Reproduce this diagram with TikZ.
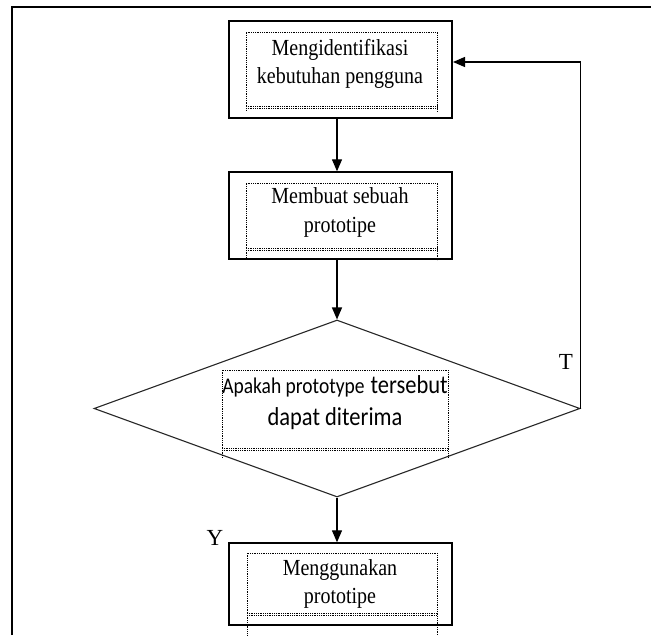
\documentclass[tikz,border=0pt]{standalone}
\usepackage{fontspec}
\usepackage{graphicx}
\setmainfont{Liberation Serif}
\newfontfamily\sansfnt{Carlito}
\usetikzlibrary{shapes.geometric,arrows.meta}

\tikzset{
  box/.style={draw, line width=1.4pt, minimum width=223pt, inner sep=0pt},
  decision/.style={shape=diamond, draw, line width=1.1pt, draw=black!85, inner sep=0pt,
    minimum width=486pt, minimum height=177pt},
  arr/.style={line width=1.3pt, -{Triangle[length=12pt,width=10pt]}},
  txt/.style={anchor=base, font=\fontsize{20}{24}\selectfont, inner sep=0pt},
  lbl/.style={font=\fontsize{23}{26}\selectfont, inner sep=0pt},
  dots/.style={line width=0.8pt, dash pattern=on 0.9pt off 0.9pt}
}

% taller glyphs, as the box texts are set
\newcommand{\tall}[1]{\scalebox{1}[1.15]{#1}}

% inner dotted frame: left, right, top, bottom y, extended side y
\newcommand{\dotframe}[5]{%
  \draw[dots] (#1,#4) -- (#1,#3) -- (#2,#3) -- (#2,#5);
  \draw[dots] (#1,#4) -- (#1,#5);
  \draw[dots] (#1,#4) -- (#2,#4);
  \draw[dots] (#1,#4+2) -- (#2,#4+2);
}

\begin{document}
\begin{tikzpicture}[x=1pt,y=-1pt]
\useasboundingbox (0,0) rectangle (651,635);

% open outer frame
\draw[line width=2pt] (12,635) -- (12,7) -- (651,7);

% process boxes and decision
\node[box, minimum height=97pt] (b1) at (340.5,69.5) {};
\node[box, minimum height=87pt] (b2) at (340.5,215.5) {};
\node[decision] (dec) at (337,408.5) {};
\node[box, minimum height=82pt] (b4) at (340.5,584) {};

% dotted text frames
\dotframe{246}{437}{32}{106}{111}
\dotframe{246}{437}{183}{248}{260}
\dotframe{222}{448}{370}{448}{458}
\dotframe{247}{437}{553}{613}{636}

% texts
\node[txt] (t1a) at (340,55) {\tall{Mengidentifikasi}};
\node[txt] (t1b) at (340,83) {\tall{kebutuhan pengguna}};
\node[txt] (t2a) at (340,203) {\tall{Membuat sebuah}};
\node[txt] (t2b) at (340,232) {\tall{prototipe}};
\node[anchor=base, inner sep=0pt] (t3a) at (335,393)
  {\tall{\sansfnt{\fontsize{19.5}{22}\selectfont Apakah prototype}\hspace{6pt}{\fontsize{22.5}{26}\selectfont tersebut}}};
\node[anchor=base, inner sep=0pt, font=\sansfnt\fontsize{22.5}{26}\selectfont] (t3b) at (335,425) {\tall{dapat diterima}};
\node[txt] (t4a) at (340,575) {\tall{Menggunakan}};
\node[txt] (t4b) at (340,603) {\tall{prototipe}};

% connectors
\draw[arr] (b1.south -| dec.north) -- (b2.north -| dec.north);
\draw[arr] (b2.south -| dec.north) -- (dec.north);
\draw[arr] (dec.south) -- (b4.north -| dec.south);
\coordinate (fb) at (453,62);
\draw[arr] (dec.east) -- (dec.east |- fb) -- (fb);

% branch labels
\node[lbl] (ly) at (215,538) {Y};
\node[lbl] (lt) at (566,362) {T};
\end{tikzpicture}
\end{document}
